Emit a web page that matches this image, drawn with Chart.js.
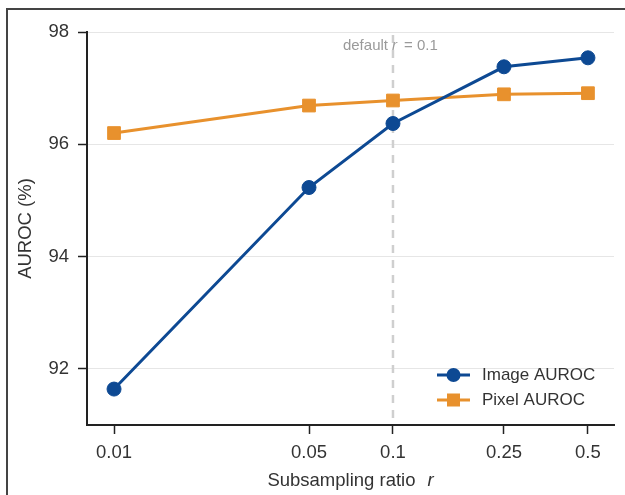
<!DOCTYPE html>
<html>
<head>
<meta charset="utf-8">
<script src="https://cdn.jsdelivr.net/npm/chart.js@4/dist/chart.umd.min.js"></script>
<style>
    html, body { margin: 0; padding: 0; background: #fff; }
</style>
</head>
<body>
<canvas id="auroc" width="625" height="495"></canvas>
<script>
// данные с графика
const ratios = [0.01, 0.05, 0.1, 0.25, 0.5];
const imageAuroc = [91.64, 95.23, 96.37, 97.38, 97.54];
const pixelAuroc = [96.20, 96.69, 96.78, 96.89, 96.91];
const xTickLabels = ['0.01', '0.05', '0.1', '0.25', '0.5'];
const yTicks = [92, 94, 96, 98];
const defaultRatio = 0.1;

const BLUE = '#0d4993';
const ORANGE = '#e8912d';
const AXIS = '#222';
const FONT = '"Liberation Sans", Arial, sans-serif';
const FS = 18.5;

// пунктир, подпись, легенда, рамка
const extras = {
    id: 'extras',
    beforeDatasetsDraw(chart) {
        const ctx = chart.ctx;
        const area = chart.chartArea;
        const x = chart.scales.x.getPixelForValue(defaultRatio);
        ctx.save();
        ctx.strokeStyle = '#cfcfcf';
        ctx.lineWidth = 2.5;
        ctx.setLineDash([8, 7]);
        ctx.beginPath();
        ctx.moveTo(x, area.top + 3);
        ctx.lineTo(x, area.bottom);
        ctx.stroke();
        ctx.restore();
    },
    afterDraw(chart) {
        const ctx = chart.ctx;
        const area = chart.chartArea;
        const xLine = chart.scales.x.getPixelForValue(defaultRatio);
        ctx.save();

        // подпись default r = 0.1
        ctx.fillStyle = '#9a9a9a';
        ctx.textBaseline = 'middle';
        ctx.textAlign = 'left';
        ctx.font = '15px ' + FONT;
        const part1 = 'default';
        let tx = xLine - 5 - ctx.measureText(part1).width;
        ctx.fillText(part1, tx, 46);
        ctx.font = 'italic 15px ' + FONT;
        ctx.fillText('r', xLine - 1, 46);
        ctx.font = '15px ' + FONT;
        ctx.fillText('= 0.1', xLine + 11, 46);

        // подпись оси X
        ctx.fillStyle = '#333';
        const t1 = 'Subsampling ratio';
        const gap = 12;
        ctx.font = FS + 'px ' + FONT;
        const w1 = ctx.measureText(t1).width;
        ctx.font = 'italic ' + FS + 'px ' + FONT;
        const w2 = ctx.measureText('r').width;
        const sx = (area.left + area.right) / 2 - (w1 + gap + w2) / 2;
        ctx.font = FS + 'px ' + FONT;
        ctx.fillText(t1, sx, 481);
        ctx.font = 'italic ' + FS + 'px ' + FONT;
        ctx.fillText('r', sx + w1 + gap, 481);

        // легенда
        const items = [
            { label: 'Image AUROC', color: BLUE, style: 'circle', y: 375 },
            { label: 'Pixel AUROC', color: ORANGE, style: 'rect', y: 400 }
        ];
        items.forEach(it => {
            ctx.strokeStyle = it.color;
            ctx.fillStyle = it.color;
            ctx.lineWidth = 3;
            ctx.beginPath();
            ctx.moveTo(437, it.y);
            ctx.lineTo(470, it.y);
            ctx.stroke();
            if (it.style === 'circle') {
                ctx.beginPath();
                ctx.arc(453.5, it.y, 7, 0, Math.PI * 2);
                ctx.fill();
            } else {
                ctx.fillRect(447, it.y - 6.5, 13, 13);
            }
            ctx.fillStyle = '#333';
            ctx.font = '17px ' + FONT;
            ctx.fillText(it.label, 482, it.y);
        });

        // рамка вокруг рисунка
        ctx.strokeStyle = '#444';
        ctx.lineWidth = 2;
        ctx.setLineDash([]);
        ctx.strokeRect(7, 9, 700, 600);
        ctx.restore();
    }
};

const ctxAuroc = document.getElementById('auroc').getContext('2d');
new Chart(ctxAuroc, {
    type: 'line',
    data: {
        datasets: [
            {
                label: 'Image AUROC',
                data: ratios.map((r, i) => ({ x: r, y: imageAuroc[i] })),
                borderColor: BLUE,
                backgroundColor: BLUE,
                borderWidth: 3,
                pointStyle: 'circle',
                pointRadius: 7,
                pointBorderWidth: 1,
                order: 1
            },
            {
                label: 'Pixel AUROC',
                data: ratios.map((r, i) => ({ x: r, y: pixelAuroc[i] })),
                borderColor: ORANGE,
                backgroundColor: ORANGE,
                borderWidth: 3,
                pointStyle: 'rect',
                pointRadius: 9,
                pointBorderWidth: 1,
                order: 2
            }
        ]
    },
    options: {
        responsive: false,
        animation: false,
        clip: false,
        layout: {
            padding: { left: 0, right: 11, top: 32, bottom: 0 }
        },
        plugins: {
            legend: { display: false },
            tooltip: { enabled: false }
        },
        scales: {
            x: {
                type: 'logarithmic',
                min: 0.008,
                max: 0.62,
                afterBuildTicks: scale => {
                    scale.ticks = ratios.map(v => ({ value: v }));
                },
                afterFit: scale => { scale.height = 70; },
                ticks: {
                    callback: (v, i) => xTickLabels[i],
                    color: '#333',
                    font: { family: FONT, size: FS },
                    padding: 8,
                    maxRotation: 0,
                    autoSkip: false
                },
                grid: {
                    drawOnChartArea: false,
                    tickLength: 9,
                    tickColor: AXIS,
                    tickWidth: 1.5
                },
                border: { display: true, color: AXIS, width: 2 }
            },
            y: {
                min: 91,
                max: 98,
                afterBuildTicks: scale => {
                    scale.ticks = yTicks.map(v => ({ value: v }));
                },
                afterFit: scale => { scale.width = 87; },
                ticks: {
                    callback: v => String(v),
                    color: '#333',
                    font: { family: FONT, size: FS },
                    padding: 9
                },
                grid: {
                    color: '#e6e6e6',
                    lineWidth: 1,
                    tickLength: 9,
                    tickColor: AXIS,
                    tickWidth: 1.5
                },
                border: { display: true, color: AXIS, width: 2 },
                title: {
                    display: true,
                    text: 'AUROC (%)',
                    color: '#333',
                    font: { family: FONT, size: FS },
                    padding: { top: 15, bottom: 0 }
                }
            }
        }
    },
    plugins: [extras]
});
</script>
</body>
</html>
